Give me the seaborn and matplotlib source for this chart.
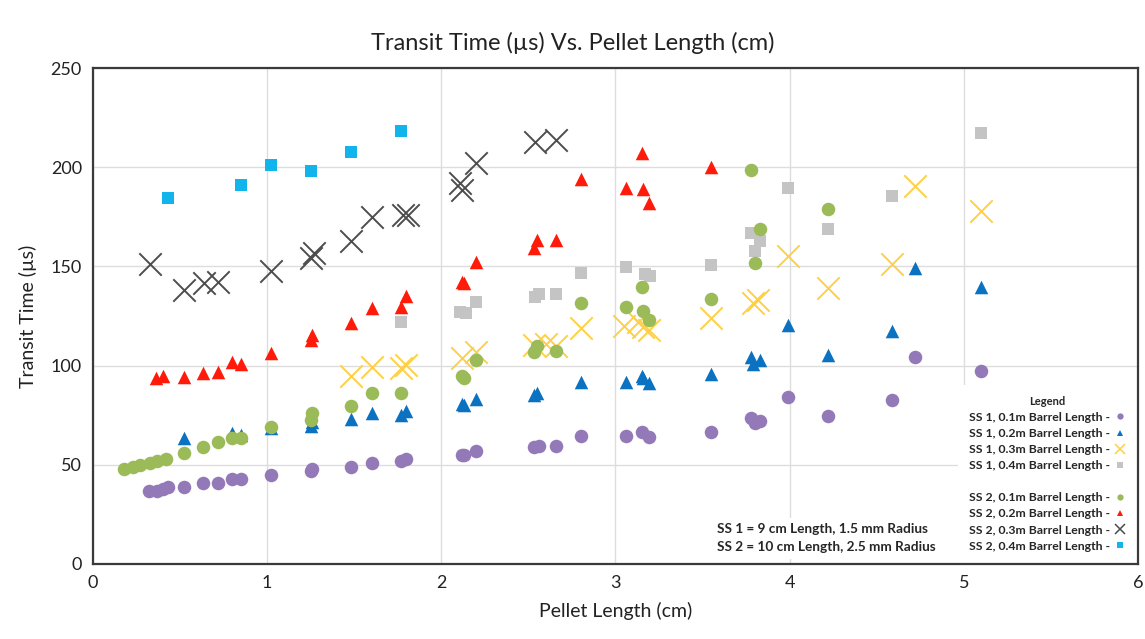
import matplotlib as mpl
mpl.use('Agg')
import matplotlib.pyplot as plt
from matplotlib.lines import Line2D
import seaborn as sns
import pandas as pd

sns.set_style("whitegrid")
plt.rcParams['font.family'] = ['Lato', 'DejaVu Sans']

# SS 1 series
ss1_01_x = [0.32, 0.37, 0.40, 0.43, 0.52, 0.63, 0.72, 0.80, 0.85, 1.02, 1.25, 1.26, 1.48, 1.60, 1.77, 1.80,
            2.12, 2.13, 2.20, 2.53, 2.56, 2.66, 2.80, 3.06, 3.15, 3.19, 3.55, 3.78, 3.80, 3.83, 3.99, 4.22,
            4.59, 4.72, 5.10]
ss1_01_y = [37, 37, 38, 39, 39, 41, 41, 43, 43, 45, 47, 48, 49, 51, 52, 53,
            55, 55, 57, 59, 59.5, 59.5, 64.5, 64.5, 66.5, 64, 66.5, 73.5, 71, 72, 84, 74.5,
            82.5, 104.5, 97.5]

ss1_02_x = [0.52, 0.80, 0.85, 1.02, 1.25, 1.26, 1.48, 1.60, 1.77, 1.80, 2.12, 2.13, 2.20, 2.53, 2.55,
            2.80, 3.06, 3.15, 3.16, 3.19, 3.55, 3.78, 3.79, 3.83, 3.99, 4.22, 4.59, 4.72, 5.10]
ss1_02_y = [63.5, 66, 65, 68.5, 69.5, 71.5, 73, 76, 75, 77, 80.5, 80, 83, 85, 86,
            91.5, 92, 95, 94, 91, 96, 104.5, 101, 103, 120.5, 105.5, 117.5, 149, 139.5]

ss1_03_x = [1.48, 1.60, 1.77, 1.80, 2.12, 2.20, 2.53, 2.60, 2.66, 2.80, 3.05, 3.13, 3.16, 3.19, 3.55,
            3.79, 3.82, 3.99, 4.22, 4.59, 4.72, 5.10]
ss1_03_y = [95, 99.5, 99, 100.5, 104, 107, 110.5, 111, 110, 119, 120, 122, 119.5, 118, 124,
            131.5, 133, 155.5, 139, 151, 190.5, 178]

ss1_04_x = [1.77, 2.11, 2.14, 2.20, 2.54, 2.56, 2.66, 2.80, 3.06, 3.17, 3.20, 3.55, 3.78, 3.83, 3.80,
            3.99, 4.22, 4.59, 5.10]
ss1_04_y = [122, 127, 126.5, 132, 134.5, 136, 136, 146.5, 149.5, 146, 145, 150.5, 167, 163, 158,
            189.5, 169, 185.5, 217.5]

# SS 2 series
ss2_01_x = [0.18, 0.23, 0.27, 0.33, 0.37, 0.42, 0.52, 0.63, 0.72, 0.80, 0.85, 1.02, 1.25, 1.26, 1.48,
            1.60, 1.77, 2.12, 2.13, 2.20, 2.53, 2.55, 2.66, 2.80, 3.06, 3.15, 3.16, 3.19, 3.55, 3.78,
            3.80, 3.83, 4.22]
ss2_01_y = [48, 49, 50, 51, 52, 53, 56, 59, 61.5, 63.5, 63.5, 69, 72.5, 76, 79.5,
            86, 86, 95, 94, 103, 107, 110, 107.5, 131.5, 129.5, 139.5, 127.5, 123, 133.5, 198.5,
            151.5, 169, 179]

ss2_02_x = [0.36, 0.40, 0.52, 0.63, 0.72, 0.80, 0.85, 1.02, 1.25, 1.26, 1.48, 1.60, 1.77, 1.80,
            2.12, 2.13, 2.20, 2.53, 2.55, 2.66, 2.80, 3.06, 3.15, 3.16, 3.19, 3.55]
ss2_02_y = [94, 95, 94.5, 96.5, 97, 102, 101, 106.5, 113, 115.5, 121.5, 129, 129.5, 135,
            142, 141.5, 152, 159.5, 163.5, 163.5, 194, 189.5, 207, 189, 182, 200]

ss2_03_x = [0.33, 0.52, 0.64, 0.72, 1.02, 1.25, 1.27, 1.48, 1.60, 1.78, 1.81, 2.11, 2.12, 2.20, 2.54, 2.66]
ss2_03_y = [151, 138, 141.5, 142, 147.5, 154.5, 157, 163, 175, 176, 176, 192, 188.5, 202, 213, 214]

ss2_04_x = [0.43, 0.85, 1.02, 1.25, 1.48, 1.77]
ss2_04_y = [184.5, 191, 201, 198, 207.5, 218.5]

labels = ["SS 1, 0.1m Barrel Length -", "SS 1, 0.2m Barrel Length -",
          "SS 1, 0.3m Barrel Length -", "SS 1, 0.4m Barrel Length -",
          "SS 2, 0.1m Barrel Length -", "SS 2, 0.2m Barrel Length -",
          "SS 2, 0.3m Barrel Length -", "SS 2, 0.4m Barrel Length -"]
xs = [ss1_01_x, ss1_02_x, ss1_03_x, ss1_04_x, ss2_01_x, ss2_02_x, ss2_03_x, ss2_04_x]
ys = [ss1_01_y, ss1_02_y, ss1_03_y, ss1_04_y, ss2_01_y, ss2_02_y, ss2_03_y, ss2_04_y]
colors = ["#9479B8", "#0B72C2", "#FFD043", "#C4C4C4", "#9BBB59", "#FF1A0A", "#4D4D4D", "#12B4EC"]
markers = ["o", "^", "x", "s", "o", "^", "x", "s"]
sizes = [95, 95, 260, 85, 95, 95, 260, 85]

fig = plt.figure(figsize=(11.45, 6.39), dpi=100)
ax = fig.add_axes([0.0812, 0.1174, 0.9127, 0.776])

for i in range(8):
    df = pd.DataFrame({"x": xs[i], "y": ys[i]})
    if markers[i] == "x":
        sns.scatterplot(data=df, x="x", y="y", ax=ax, marker="x", color=colors[i],
                        s=sizes[i], linewidth=1.4, zorder=3)
    else:
        sns.scatterplot(data=df, x="x", y="y", ax=ax, marker=markers[i], color=colors[i],
                        s=sizes[i], linewidth=0, zorder=3)

ax.set_xlim(0, 6)
ax.set_ylim(0, 250)
ax.set_xticks(range(0, 7))
ax.set_yticks(range(0, 251, 50))
ax.grid(True, color="#DDDDDD", linewidth=1)
ax.tick_params(axis='both', length=0, labelsize=13, pad=8, colors="#222222")
for sp in ax.spines.values():
    sp.set_color("#3A3A3A")
    sp.set_linewidth(1.6)
    sp.set_zorder(10)

ax.set_xlabel("Pellet Length (cm)", fontsize=14, labelpad=8, color="#222222")
ax.set_ylabel("Transit Time (µs)", fontsize=14, labelpad=10, color="#222222")
fig.suptitle("Transit Time (µs) Vs. Pellet Length (cm)", fontsize=17, y=0.95, color="#222222")

# notes on the lower right
ax.text(3.58, 13, "SS 1 = 9 cm Length, 1.5 mm Radius\nSS 2 = 10 cm Length, 2.5 mm Radius",
        fontsize=9.8, fontweight='bold', linespacing=1.55, va='center', ha='left',
        bbox=dict(facecolor='white', edgecolor='none', pad=4), zorder=4)

handles = []
for i in range(8):
    if i == 4:
        handles.append(Line2D([], [], linestyle='None', label=' '))
    if markers[i] == "x":
        h = Line2D([], [], marker='x', color=colors[i], linestyle='None', markersize=6.5,
                   markeredgewidth=1.1, label=labels[i])
    else:
        h = Line2D([], [], marker=markers[i], color=colors[i], linestyle='None', markersize=4.5,
                   markeredgewidth=0, label=labels[i])
    handles.append(h)

leg = ax.legend(handles=handles, title="Legend", loc='lower right', bbox_to_anchor=(1.0, 0.0),
                borderaxespad=0.1, markerfirst=False, frameon=True, facecolor='white',
                edgecolor='none', framealpha=1, fancybox=False, prop={'size': 8.8, 'weight': 'bold'},
                title_fontproperties={'size': 8, 'weight': 'bold'},
                labelspacing=0.42, handletextpad=0.3, handlelength=1.0, borderpad=0.9)
leg.set_zorder(5)

fig.savefig("out.png", dpi=100)
